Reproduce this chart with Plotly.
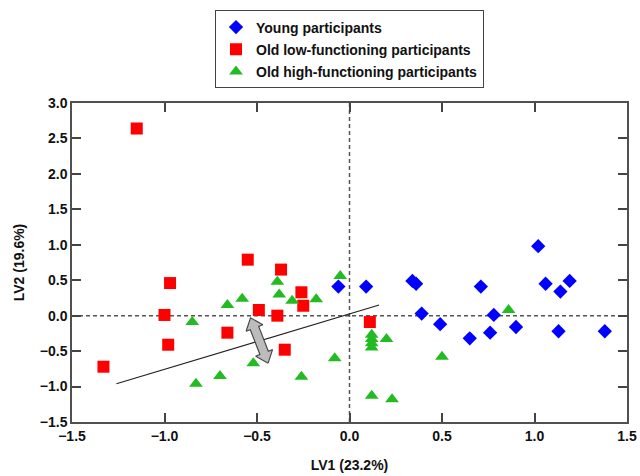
import plotly.graph_objects as go
import math

# ---- data ----
young_x = [-0.06, 0.09, 0.34, 0.36, 0.39, 0.49, 0.65, 0.71, 0.76, 0.78, 0.90, 1.02, 1.06, 1.13, 1.14, 1.19, 1.38]
young_y = [0.41, 0.41, 0.49, 0.45, 0.03, -0.12, -0.32, 0.41, -0.24, 0.01, -0.16, 0.98, 0.45, -0.22, 0.34, 0.49, -0.22]

low_x = [-1.15, -1.33, -0.97, -1.00, -0.98, -0.66, -0.55, -0.49, -0.39, -0.37, -0.35, -0.26, -0.25, 0.11]
low_y = [2.64, -0.72, 0.46, 0.01, -0.41, -0.24, 0.79, 0.08, 0.00, 0.65, -0.48, 0.33, 0.14, -0.09]

high_x = [-0.85, -0.83, -0.70, -0.66, -0.58, -0.52, -0.39, -0.38, -0.31, -0.26, -0.18, -0.08, -0.05,
          0.12, 0.12, 0.12, 0.12, 0.20, 0.12, 0.23, 0.50, 0.86]
high_y = [-0.09, -0.96, -0.85, 0.15, 0.24, -0.67, 0.48, 0.30, 0.21, -0.86, 0.23, -0.60, 0.56,
          -0.27, -0.33, -0.39, -0.45, -0.33, -1.13, -1.18, -0.58, 0.08]

line_x = [-1.26, 0.16]
line_y = [-0.96, 0.15]

arrow_from = (-0.44, -0.67)
arrow_to = (-0.535, -0.03)

X_RANGE = [-1.5, 1.5]
Y_RANGE = [-1.5, 3.0]
W, H = 640, 476
M = dict(l=72, r=13, t=103, b=54)

FONT = "Liberation Sans, Arial, sans-serif"

# pixel scale of the data area (to shape the arrow polygon)
px_per_x = (W - M["l"] - M["r"]) / (X_RANGE[1] - X_RANGE[0])
px_per_y = (H - M["t"] - M["b"]) / (Y_RANGE[1] - Y_RANGE[0])


def double_arrow(p0, p1, shaft=4.5, head=9.0, head_len=11.0):
    x0, y0 = p0[0] * px_per_x, p0[1] * px_per_y
    x1, y1 = p1[0] * px_per_x, p1[1] * px_per_y
    dx, dy = x1 - x0, y1 - y0
    L = math.hypot(dx, dy)
    ux, uy = dx / L, dy / L
    nx, ny = -uy, ux
    def P(s, n):
        return (x0 + ux * s + nx * n, y0 + uy * s + ny * n)
    pts = [P(0, 0), P(head_len, head), P(head_len, shaft), P(L - head_len, shaft), P(L - head_len, head),
           P(L, 0), P(L - head_len, -head), P(L - head_len, -shaft), P(head_len, -shaft), P(head_len, -head),
           P(0, 0)]
    return [p[0] / px_per_x for p in pts], [p[1] / px_per_y for p in pts]


fig = go.Figure()

fig.add_trace(go.Scatter(x=line_x, y=line_y, mode="lines", line=dict(color="#222222", width=1.2),
                         showlegend=False, hoverinfo="skip"))

ax_, ay_ = double_arrow(arrow_from, arrow_to)
fig.add_trace(go.Scatter(x=ax_, y=ay_, mode="lines", fill="toself", fillcolor="#bcbcbc",
                         line=dict(color="#4a4a4a", width=1.2), showlegend=False, hoverinfo="skip"))

fig.add_trace(go.Scatter(x=young_x, y=young_y, mode="markers", name="Young participants",
                         marker=dict(symbol="diamond", size=11, color="#0000ff"), legendgroup="a"))
fig.add_trace(go.Scatter(x=low_x, y=low_y, mode="markers", name="Old low-functioning participants",
                         marker=dict(symbol="square", size=12, color="#ff0000"), legendgroup="b"))
fig.add_trace(go.Scatter(x=high_x, y=high_y, mode="markers", name="Old high-functioning participants",
                         marker=dict(symbol="triangle-up", size=12, color="#22bb22"), legendgroup="c"))

fig.add_vline(x=0, line=dict(color="#555555", width=1.5, dash="4px,3px"), layer="below")
fig.add_hline(y=0, line=dict(color="#555555", width=1.5, dash="4px,3px"), layer="below")

axis_common = dict(showgrid=False, zeroline=False, showline=True, linecolor="#505050", linewidth=1.5,
                   mirror="ticks", ticks="inside", ticklen=9, tickwidth=1.5, tickcolor="#444444",
                   dtick=0.5, tickformat=".1f", automargin=False,
                   tickfont=dict(family=FONT, size=14, color="#111111", weight="bold"),
                   title_font=dict(family=FONT, size=14, color="#111111", weight="bold"))

fig.update_xaxes(range=X_RANGE, title_text="LV1 (23.2%)", title_standoff=18, **axis_common)
fig.update_yaxes(range=Y_RANGE, title_text="LV2 (19.6%)", title_standoff=12, **axis_common)

fig.update_layout(
    width=W, height=H,
    margin=dict(M, autoexpand=False),
    plot_bgcolor="white", paper_bgcolor="white",
    legend=dict(x=0.5, xanchor="center", xref="paper", y=0.978, yanchor="top", yref="container",
                orientation="v",
                bordercolor="#444444", borderwidth=1, bgcolor="white",
                font=dict(family=FONT, size=14, color="#111111", weight="bold"),
                tracegroupgap=1),
)

fig.write_html("out.html", post_script="document.body.style.margin='0';",
               config={"displayModeBar": False})
